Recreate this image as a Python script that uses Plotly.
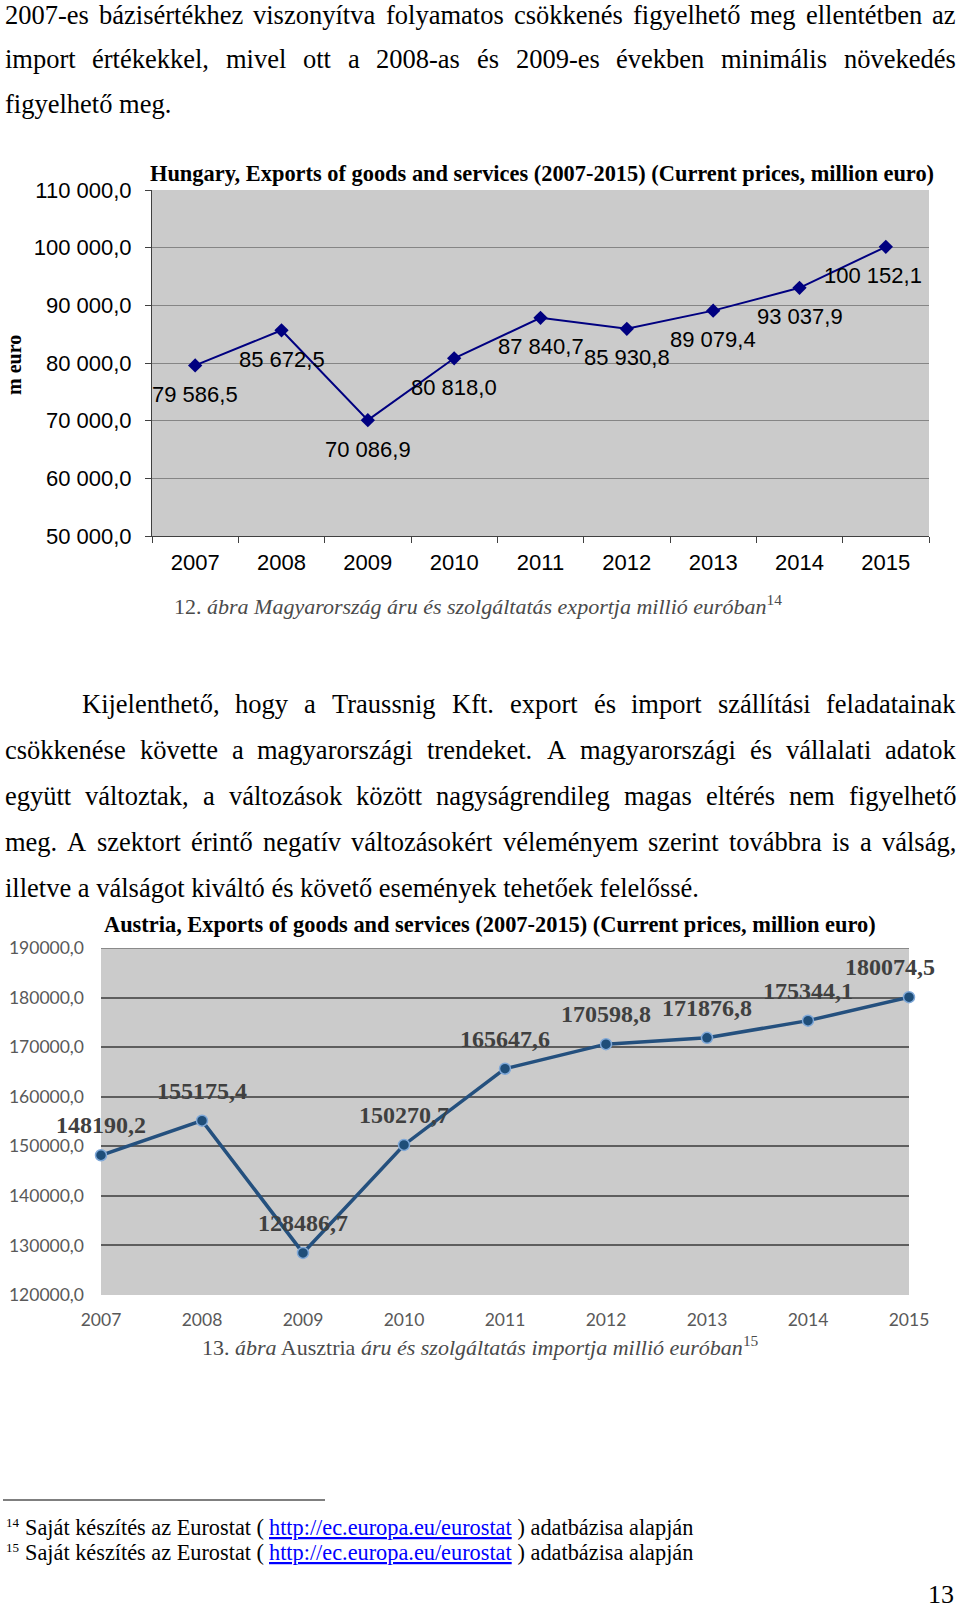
import plotly.graph_objects as go

W, H = 960, 1610

# ---------------- data ----------------
years = ["2007", "2008", "2009", "2010", "2011", "2012", "2013", "2014", "2015"]
hu_exports = [79586.5, 85672.5, 70086.9, 80818.0, 87840.7, 85930.8, 89079.4, 93037.9, 100152.1]
at_exports = [148190.2, 155175.4, 128486.7, 150270.7, 165647.6, 170598.8, 171876.8, 175344.1, 180074.5]

hu_ytick_vals = [50000, 60000, 70000, 80000, 90000, 100000, 110000]
hu_ytick_text = ["50 000,0", "60 000,0", "70 000,0", "80 000,0", "90 000,0", "100 000,0", "110 000,0"]
at_ytick_vals = [120000, 130000, 140000, 150000, 160000, 170000, 180000, 190000]
at_ytick_text = ["120000,0", "130000,0", "140000,0", "150000,0", "160000,0", "170000,0", "180000,0", "190000,0"]

hu_title = "Hungary, Exports of goods and services (2007-2015) (Current prices, million euro)"
at_title = "Austria, Exports of goods and services (2007-2015) (Current prices, million euro)"
hu_ytitle = "m euro"

para1 = [
    "2007-es bázisértékhez viszonyítva folyamatos csökkenés figyelhető meg ellentétben az",
    "import értékekkel, mivel ott a 2008-as és 2009-es években minimális növekedés",
    "figyelhető meg.",
]
para2 = [
    "Kijelenthető, hogy a Traussnig Kft. export és import szállítási feladatainak",
    "csökkenése követte a magyarországi trendeket. A magyarországi és vállalati adatok",
    "együtt változtak, a változások között nagyságrendileg magas eltérés nem figyelhető",
    "meg. A szektort érintő negatív változásokért véleményem szerint továbbra is a válság,",
    "illetve a válságot kiváltó és követő események tehetőek felelőssé.",
]
caption12 = "12. <i>ábra Magyarország áru és szolgáltatás exportja millió euróban</i><sup>14</sup>"
caption13 = "13. <i>ábra</i> Ausztria <i>áru és szolgáltatás importja millió euróban</i><sup>15</sup>"
fn_pre = "Saját készítés az Eurostat ( "
fn_link = "http://ec.europa.eu/eurostat"
fn_post = " ) adatbázisa alapján"
fn_marks = ["14", "15"]
page_no = "13"


def hu_fmt(v):
    return f"{v:,.1f}".replace(",", " ").replace(".", ",")


def at_fmt(v):
    return f"{v:.1f}".replace(".", ",")


# ---------------- text metrics (Times / Liberation Serif) ----------------
TW = {' ': 250, ',': 250, '.': 250, '-': 333, '(': 333, ')': 333, ':': 278, '/': 278,
      'a': 444, 'b': 500, 'c': 444, 'd': 500, 'e': 444, 'f': 333, 'g': 500, 'h': 500,
      'i': 278, 'j': 278, 'k': 500, 'l': 278, 'm': 778, 'n': 500, 'o': 500, 'p': 500,
      'q': 500, 'r': 333, 's': 389, 't': 278, 'u': 500, 'v': 500, 'w': 722, 'x': 500,
      'y': 500, 'z': 444, 'á': 444, 'é': 444, 'í': 278, 'ó': 500, 'ö': 500, 'ő': 500,
      'ú': 500, 'ü': 500, 'ű': 500, 'A': 722, 'K': 722, 'T': 611, 'E': 611, 'S': 556}


def tw(s, size):
    return sum(TW.get(c, 500) for c in s) / 1000.0 * size


def px(x):
    return x / W


def py(y):
    return 1 - y / H


annotations = []
SERIF = "Liberation Serif, Times New Roman, serif"
SANS = "Liberation Sans, Arial, sans-serif"
CALIB = "Lato, Open Sans, sans-serif"


def text_at(x, base, text, size, family=SERIF, color="#000000", xanchor="left",
            asc=0.3375, **kw):
    annotations.append(dict(
        x=px(x), y=py(base - asc * size), xref="paper", yref="paper",
        text=text, showarrow=False, xanchor=xanchor, yanchor="middle",
        borderpad=0, font=dict(family=family, size=size, color=color), **kw))


def justify(line, base, x0, x1, size):
    words = line.split(" ")
    widths = [tw(w, size) for w in words]
    gap = (x1 - x0 - sum(widths)) / (len(words) - 1)
    x = x0
    for w, wd in zip(words, widths):
        text_at(x, base, w, size)
        x += wd + gap


BODY = 26.5
LEFT, RIGHT = 4, 955
# paragraph 1
justify(para1[0], 24, LEFT, RIGHT, BODY)
justify(para1[1], 67.5, LEFT, RIGHT, BODY)
text_at(LEFT, 112.5, para1[2], BODY)
# paragraph 2
bases2 = [713, 759, 805, 851, 897]
justify(para2[0], bases2[0], 81, RIGHT, BODY)
for ln, b in zip(para2[1:4], bases2[1:4]):
    justify(ln, b, LEFT, RIGHT, BODY)
text_at(LEFT, bases2[4], para2[4], BODY)

# captions
CAP = 22
text_at(173, 612, caption12, CAP, color="#4a4a4a")
text_at(201, 1353, caption13, CAP, color="#4a4a4a")

# footnotes
FN = 22.3
for mark, base in zip(fn_marks, [1535, 1560]):
    text_at(5, base - 8, mark, 13)
    x = 23.5
    text_at(x, base, fn_pre, FN)
    x += tw(fn_pre, FN)
    annotations.append(dict(
        x=px(x), y=py(base - 0.3375 * FN), xref="paper", yref="paper",
        text=fn_link, showarrow=False, xanchor="left", yanchor="middle", borderpad=0,
        font=dict(family=SERIF, size=FN, color="#0000FF", lineposition="under")))
    x += tw(fn_link, FN)
    text_at(x, base, fn_post, FN)

text_at(955, 1603.5, page_no, 26, xanchor="right")

# chart titles
text_at(542, 181, "<b>" + hu_title + "</b>", 22.4, xanchor="center")
text_at(490, 932, "<b>" + at_title + "</b>", 22.4, xanchor="center")
annotations.append(dict(
    x=px(14), y=py(365), xref="paper", yref="paper", text="<b>" + hu_ytitle + "</b>",
    showarrow=False, textangle=-90, xanchor="center", yanchor="middle",
    font=dict(family=SERIF, size=20, color="#000000")))

# data labels
for i, v in enumerate(hu_exports):
    annotations.append(dict(
        x=i, y=v, xref="x", yref="y", text=hu_fmt(v), showarrow=False,
        yshift=-29, xshift=(-13 if i == len(hu_exports) - 1 else 0),
        font=dict(family=SANS, size=22, color="#000000")))
for i, v in enumerate(at_exports):
    annotations.append(dict(
        x=i, y=v, xref="x2", yref="y2", text="<b>" + at_fmt(v) + "</b>", showarrow=False,
        yshift=30, xshift=(-19 if i == len(at_exports) - 1 else 0),
        font=dict(family=SERIF, size=24, color="#404040")))

# ---------------- figure ----------------
fig = go.Figure()
fig.add_trace(go.Scatter(
    x=years, y=hu_exports, xaxis="x", yaxis="y", mode="lines+markers",
    line=dict(color="#000080", width=2),
    marker=dict(symbol="diamond", size=11, color="#000080"),
    cliponaxis=False, hoverinfo="skip"))
fig.add_trace(go.Scatter(
    x=years, y=at_exports, xaxis="x2", yaxis="y2", mode="lines+markers",
    line=dict(color="#24507E", width=3.5),
    marker=dict(symbol="circle", size=11, color="#1F4E79",
                line=dict(color="#7FA8D8", width=1.5)),
    cliponaxis=False, hoverinfo="skip"))

shapes = [
    dict(type="line", xref="paper", yref="paper", x0=px(3), x1=px(325),
         y0=py(1500), y1=py(1500), line=dict(color="#000000", width=1.2)),
    dict(type="line", xref="x2 domain", yref="y2", x0=0, x1=1, y0=190000, y1=190000,
         line=dict(color="#8a8a8a", width=2)),
]

fig.update_layout(
    width=W, height=H, autosize=False,
    margin=dict(l=0, r=0, t=0, b=0, pad=0, autoexpand=False),
    paper_bgcolor="#FFFFFF", plot_bgcolor="#CBCBCB", showlegend=False,
    annotations=annotations, shapes=shapes,
    xaxis=dict(domain=[px(152), px(929)], anchor="y", type="category", automargin=False,
               range=[-0.5, 8.5], tickson="boundaries", ticks="outside", ticklen=6,
               tickcolor="#404040", showline=True, linecolor="#404040", linewidth=1,
               showgrid=False, ticklabelstandoff=7,
               tickfont=dict(family=SANS, size=22, color="#000000")),
    yaxis=dict(domain=[py(536), py(190)], anchor="x", range=[50000, 110000], automargin=False,
               tickvals=hu_ytick_vals, ticktext=hu_ytick_text, ticks="outside",
               ticklen=6, tickcolor="#404040", showline=True, linecolor="#404040",
               linewidth=1, showgrid=True, gridcolor="#858585", gridwidth=1,
               zeroline=False, ticklabelstandoff=9,
               tickfont=dict(family=SANS, size=22, color="#000000")),
    xaxis2=dict(domain=[px(101), px(909)], anchor="y2", type="category", automargin=False,
                range=[0, 8], ticks="", showline=False, showgrid=False,
                ticklabelstandoff=12,
                tickfont=dict(family=CALIB, size=17.5, color="#595959")),
    yaxis2=dict(domain=[py(1295), py(948)], anchor="x2", range=[120000, 190000], automargin=False,
                tickvals=at_ytick_vals, ticktext=at_ytick_text, ticks="",
                showline=False, showgrid=True, gridcolor="#5e5e5e", gridwidth=2,
                zeroline=False, ticklabelstandoff=16,
                tickfont=dict(family=CALIB, size=17.5, color="#595959")),
)

fig.write_html("out.html")
